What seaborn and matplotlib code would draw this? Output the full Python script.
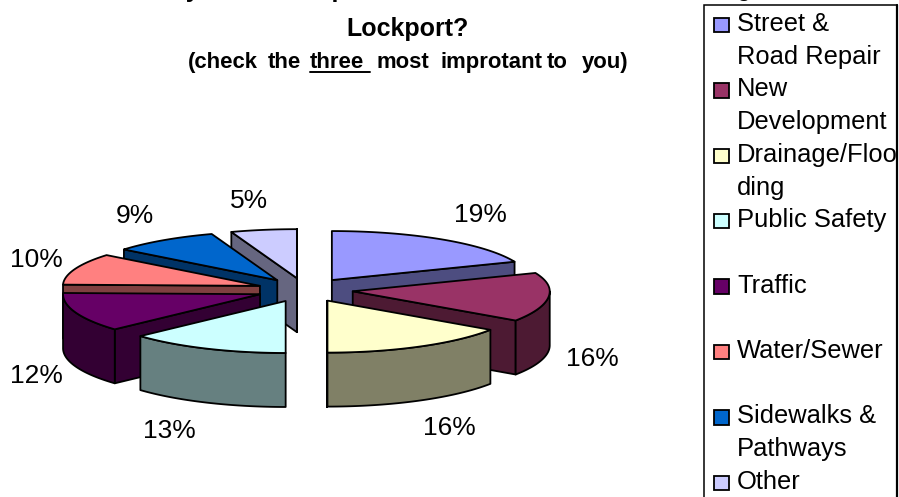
"""
Lockport survey pie, exploded and tilted like the old spreadsheet 3-D pie
"""
import numpy as np
import matplotlib
matplotlib.use("Agg")
import matplotlib.pyplot as plt
from matplotlib.patches import Rectangle
import seaborn as sns

categories = ["Street & Road Repair", "New Development", "Drainage/Flooding",
              "Public Safety", "Traffic", "Water/Sewer",
              "Sidewalks & Pathways", "Other"]
# unrounded shares estimated from the slice edges, labels round them
shares = [18.9, 15.6, 15.5, 13.2, 12.2, 10.4, 8.8, 5.4]
slice_colors = ["#9999FF", "#993366", "#FFFFCC", "#CCFFFF",
                "#660066", "#FF8080", "#0066CC", "#CCCCFF"]
legend_rows = [["Street &", "Road Repair"], ["New", "Development"],
               ["Drainage/Floo", "ding"], ["Public Safety"], ["Traffic"],
               ["Water/Sewer"], ["Sidewalks &", "Pathways"], ["Other"]]
label_x = [480, 592, 449, 169, 36, 36, 135, 249]
label_y = [215, 359, 428, 431, 376, 260, 216, 201]
subtitle_words = ["(check", "the", "three", "most", "improtant", "to", "you)"]
subtitle_x = [188, 268, 310, 376, 440, 547, 582]

# pie geometry, in pixels of the figure
CX, CY = 305, 290
RX, RY_BACK, RY_FRONT = 197, 49, 52
DEPTH = 54
EXPLODE = 48

sns.set_theme(style="white")
plt.rcParams["font.family"] = ["Liberation Sans", "DejaVu Sans"]
palette = sns.color_palette(slice_colors)

fig = plt.figure(figsize=(8.99, 4.97), dpi=100)
ax = fig.add_axes([0, 0, 1, 1])
ax.set_xlim(0, 899)
ax.set_ylim(497, 0)
ax.axis("off")


def rim(apex, angles):
    radius_y = np.where(np.cos(angles) > 0, RY_BACK, RY_FRONT)
    return apex[0] + RX * np.sin(angles), apex[1] - radius_y * np.cos(angles)


def draw_slice(apex, start, end, color, order):
    wall = tuple(c * 0.5 for c in color)
    style = dict(edgecolor="black", linewidth=1.3, joinstyle="round", zorder=order)

    # radial walls, only the one turned towards the viewer
    for angle, visible in ((start, np.sin(start) < 0), (end, np.sin(end) > 0)):
        if visible:
            px, py = rim(apex, np.array([angle]))
            ax.fill([apex[0], px[0], px[0], apex[0]],
                    [apex[1], py[0], py[0] + DEPTH, apex[1] + DEPTH],
                    facecolor=wall, **style)

    # outer wall, front half of the rim only
    lo, hi = max(start, np.pi / 2), min(end, 3 * np.pi / 2)
    if lo < hi:
        t = np.linspace(lo, hi, 60)
        px, py = rim(apex, t)
        ax.fill(np.r_[px, px[::-1]], np.r_[py, py[::-1] + DEPTH],
                facecolor=wall, **style)

    t = np.linspace(start, end, 80)
    px, py = rim(apex, t)
    ax.fill(np.r_[apex[0], px], np.r_[apex[1], py], facecolor=color, **style)


edges = np.r_[0, np.cumsum(shares)] / np.sum(shares) * 2 * np.pi
mids = (edges[:-1] + edges[1:]) / 2
apex_x = CX + EXPLODE * np.sin(mids)
apex_y = CY - EXPLODE * 0.25 * np.cos(mids)

# back slices first so the front ones cover them
for order, i in enumerate(np.argsort(apex_y)):
    draw_slice((apex_x[i], apex_y[i]), edges[i], edges[i + 1], palette[i], order + 2)

for i, share in enumerate(shares):
    ax.text(label_x[i], label_y[i], f"{share:.0f}%", fontsize=19, color="black",
            ha="center", va="center", zorder=20)

# title, the first line runs off the top of the picture like in the source
ax.text(80, -3, "What do you think is problem number one in", fontsize=18, fontweight="bold",
        ha="left", va="baseline", color="black")
ax.text(408, 36, "Lockport?", fontsize=18, fontweight="bold",
        ha="center", va="baseline", color="black")
for word, x in zip(subtitle_words, subtitle_x):
    ax.text(x, 68, word, fontsize=15.9, fontweight="bold",
            ha="left", va="baseline", color="black")
ax.plot([310, 370], [72, 72], color="black", linewidth=1.4)

# legend box is hand built since the rows wrap and stay on a fixed pitch
ax.add_patch(Rectangle((704, 5), 193, 500, facecolor="white", edgecolor="black",
                       linewidth=1.1, zorder=1))
ax.plot([897, 897], [5, 497], color="black", linewidth=1.6, zorder=1)
ax.text(737, -4, "g", fontsize=18.4, va="baseline", color="black")

line_no = 0
for i, row in enumerate(legend_rows):
    ax.add_patch(Rectangle((714, 17.75 + line_no * 32.7), 14.5, 14.5, facecolor=palette[i],
                           edgecolor="black", linewidth=1.3, zorder=3))
    for j, line in enumerate(row):
        ax.text(737, 31 + (line_no + j) * 32.7, line, fontsize=18.4, color="black",
                va="baseline", ha="left", zorder=3)
    line_no += 2

fig.savefig("out.png", dpi=100)
